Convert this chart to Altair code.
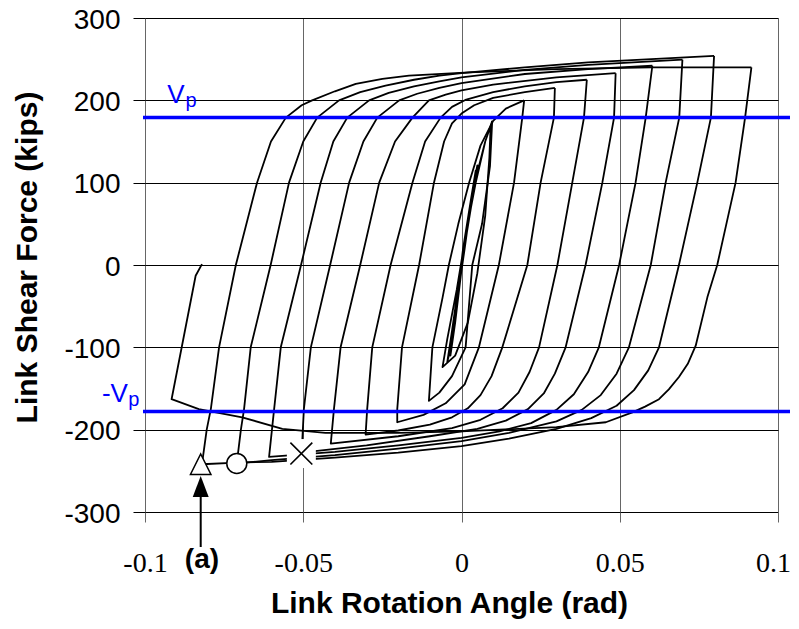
import altair as alt
import pandas as pd

# ---------------- data ----------------
x_ticks = [-0.1, -0.05, 0, 0.05, 0.1]
y_ticks = [-300, -200, -100, 0, 100, 200, 300]
vp_pos = 179
vp_neg = -178

# hysteresis history, split into cycles: (rotation rad, shear kips)
cycle_0 = [(0, 0), (0.002, 50), (0.0045, 115),
           (0.003, 80), (0.0005, 20), (-0.002, -60), (-0.0035, -110),
           (-0.002, -70), (0.0005, 10), (0.003, 80), (0.005, 121),
           (0.0035, 90), (0.001, 20), (-0.002, -60), (-0.004, -110), (-0.0045, -118),
           (-0.003, -80), (0.0, 0), (0.003, 70), (0.0055, 120), (0.0075, 150), (0.0092, 169),
           (0.0088, 130), (0.0075, 60), (0.005, -10), (0.002, -70), (-0.002, -110), (-0.006, -124),
           (-0.0045, -90), (-0.0015, -30), (0.0015, 40), (0.0045, 100), (0.0075, 150), (0.0097, 175)]
cycle_1 = [(0.0097, 175), (0.009, 120), (0.0065, 50), (0.0034, 0), (0.0013, -100), (-0.003, -135),
           (-0.007, -155), (-0.0103, -165),
           (-0.0092, -100), (-0.006, -40), (-0.004, 0), (-0.001, 50), (0.0024, 100), (0.006, 145),
           (0.010, 175), (0.014, 190), (0.0198, 200)]
cycle_2 = [(0.0198, 200), (0.0192, 179), (0.0166, 100), (0.0118, 0), (0.0055, -100), (0.001, -145),
           (-0.005, -168), (-0.012, -182), (-0.0203, -191),
           (-0.0203, -175), (-0.0188, -100), (-0.0134, 0), (-0.0087, 100), (-0.0055, 150), (-0.003, 172),
           (0.0, 184), (0.004, 194), (0.01, 203), (0.02, 210), (0.0295, 215)]
cycle_3 = [(0.0295, 215), (0.0292, 179), (0.025, 100), (0.0208, 0), (0.0129, -100), (0.0095, -135),
           (0.006, -158), (0.002, -174), (-0.003, -185), (-0.01, -194), (-0.02, -201), (-0.0303, -206),
           (-0.0298, -175), (-0.0282, -100), (-0.0224, 0), (-0.0155, 100), (-0.0115, 150), (-0.0066, 179),
           (-0.003, 192), (0.0015, 201), (0.01, 210), (0.02, 217), (0.03, 222), (0.0396, 225)]
cycle_4 = [(0.0396, 225), (0.0387, 179), (0.035, 100), (0.0303, 0), (0.0245, -100), (0.0215, -130),
           (0.018, -155), (0.013, -174), (0.006, -188), (-0.003, -198), (-0.02, -208), (-0.0413, -217),
           (-0.0403, -175), (-0.0382, -100), (-0.032, 0), (-0.026, 100), (-0.021, 150), (-0.0155, 179),
           (-0.0103, 200), (-0.005, 207), (0.0, 212), (0.01, 219), (0.03, 228), (0.0487, 233)]
cycle_5 = [(0.0487, 233), (0.0482, 179), (0.0445, 100), (0.0392, 0), (0.0329, -100), (0.0295, -132),
           (0.026, -156), (0.021, -175), (0.014, -189), (0.005, -199), (-0.01, -208), (-0.03, -219),
           (-0.0505, -228),
           (-0.0498, -175), (-0.0476, -100), (-0.0415, 0), (-0.0355, 100), (-0.031, 150), (-0.0266, 179),
           (-0.0197, 200), (-0.014, 208), (-0.007, 215), (0.0, 221), (0.02, 232), (0.04, 238), (0.0603, 242)]
cycle_6 = [(0.0603, 242), (0.0582, 179), (0.055, 100), (0.0498, 0), (0.0434, -100), (0.04, -130),
           (0.0355, -157), (0.03, -176), (0.022, -192), (0.012, -202), (0.0, -210), (-0.02, -219),
           (-0.04, -227), (-0.0608, -233),
           (-0.0592, -175), (-0.0571, -100), (-0.0507, 0), (-0.0445, 100), (-0.0405, 150), (-0.0361, 179),
           (-0.0292, 200), (-0.023, 209), (-0.015, 217), (-0.007, 223), (0.0, 228), (0.02, 237), (0.04, 243),
           (0.0698, 249.5)]
cycle_7 = [(0.0698, 249.5), (0.0688, 179), (0.0645, 100), (0.0598, 0), (0.0529, -100), (0.049, -132),
           (0.044, -158), (0.038, -176), (0.03, -190), (0.015, -204), (0.0, -214), (-0.02, -223),
           (-0.04, -231), (-0.06, -237), (-0.071, -241),
           (-0.0697, -200), (-0.0687, -175), (-0.0666, -100), (-0.0603, 0), (-0.0545, 100), (-0.05, 150),
           (-0.0456, 179), (-0.0387, 200), (-0.032, 210), (-0.024, 218), (-0.015, 225), (-0.007, 230),
           (0.0, 233), (0.02, 240), (0.04, 246), (0.06, 250), (0.0798, 254)]
cycle_8 = [(0.0798, 254), (0.0788, 179), (0.0745, 100), (0.0687, 0), (0.0624, -100), (0.059, -128),
           (0.0545, -152), (0.049, -171), (0.041, -186), (0.03, -199), (0.015, -211), (0.0, -220),
           (-0.02, -228), (-0.04, -234), (-0.06, -239), (-0.071, -240), (-0.082, -242),
           (-0.0805, -200), (-0.0792, -175), (-0.0766, -100), (-0.0713, 0), (-0.0646, 100), (-0.0602, 150),
           (-0.0555, 179), (-0.0505, 194), (-0.0472, 200), (-0.04, 211), (-0.0334, 220), (-0.025, 226),
           (-0.0166, 230), (0.0024, 234), (0.03, 238), (0.06, 240), (0.0916, 240)]
cycle_9 = [(0.0916, 240), (0.0896, 179), (0.0866, 100), (0.0808, 0), (0.0777, -39), (0.074, -98),
           (0.0715, -120), (0.0687, -136), (0.0655, -151), (0.0624, -163), (0.058, -172), (0.054, -179),
           (0.0456, -191), (0.03, -197), (0.0, -202), (-0.02, -204), (-0.043, -204), (-0.0566, -199),
           (-0.0693, -185), (-0.083, -175), (-0.0916, -163),
           (-0.084, -13), (-0.082, 1)]

cycles = [cycle_0, cycle_1, cycle_2, cycle_3, cycle_4, cycle_5, cycle_6, cycle_7, cycle_8, cycle_9]

# event markers
tri_pt = (-0.0824, -242)
circ_pt = (-0.071, -241)
x_pt = (-0.0506, -229)

# ---------------- build tables ----------------
rows = []
for c, pts in enumerate(cycles):
    for i, (x, y) in enumerate(pts):
        rows.append({"cycle": c, "i": i, "x": x, "y": y})
df = pd.DataFrame(rows)

SANS = "Liberation Sans, Arial, sans-serif"
SERIF = "Liberation Serif, Times New Roman, serif"

xs = alt.Scale(domain=[-0.1, 0.1], nice=False, zero=False)
ys = alt.Scale(domain=[-300, 300], nice=False, zero=False)

x_axis = alt.Axis(
    values=x_ticks, grid=True, gridColor="#666666", gridWidth=1,
    domain=False, ticks=True, tickSize=10, tickColor="#666666", tickWidth=1,
    labelFont=SERIF, labelFontSize=28, labelColor="black",
    labelBaseline="alphabetic", labelPadding=49, labelFlush=False,
    labelOffset={"condition": {"test": "datum.value > 0.09", "value": -5}, "value": 0},
    labelExpr="datum.value < -0.075 ? '-0.1' : datum.value < -0.025 ? '-0.05' : datum.value < 0.025 ? '0' : datum.value < 0.075 ? '0.05' : '0.1'",
    title="Link Rotation Angle (rad)", titleFont=SANS, titleFontSize=30, titleFontWeight="bold",
    titleColor="black", titleX=304, titleY=100, titleBaseline="alphabetic", titleAlign="center",
    titleAnchor="start",
)
y_axis = alt.Axis(
    values=y_ticks, grid=True, gridColor="black", gridWidth=1,
    domain=False, ticks=True, tickSize=12, tickColor="black", tickWidth=1,
    labelFont=SANS, labelFontSize=28, labelColor="black", labelPadding=13, labelOffset=2,
    labelExpr="'' + datum.value",
    title="Link Shear Force (kips)", titleFont=SANS, titleFontSize=30, titleFontWeight="bold",
    titleColor="black", titleX=-109, titleY=239, titleAngle=-90, titleBaseline="alphabetic",
    titleAlign="center", titleAnchor="start",
)

lines = alt.Chart(df).mark_line(color="black", strokeWidth=1.8, strokeJoin="round").encode(
    x=alt.X("x:Q", scale=xs, axis=x_axis),
    y=alt.Y("y:Q", scale=ys, axis=y_axis),
    detail="cycle:N",
    order="i:Q",
)

vp_df = pd.DataFrame({"v": [vp_pos, vp_neg]})
vp_lines = alt.Chart(vp_df).mark_rule(color="#0000ff", strokeWidth=3.5).encode(
    y=alt.Y("v:Q", scale=ys),
    x=alt.value(-2),
    x2=alt.value(645),
)

lab_df = pd.DataFrame({
    "t": ["V", "p", "-V", "p"],
    "x": [-0.093, -0.0872, -0.1136, -0.1053],
    "y": [197, 192, -166, -171],
    "s": [26, 20, 26, 20],
})
vp_text = alt.Chart(lab_df).mark_text(
    color="#0000ff", font=SANS, align="left", baseline="alphabetic",
).encode(
    x=alt.X("x:Q", scale=xs), y=alt.Y("y:Q", scale=ys), text="t:N",
    size=alt.Size("s:Q", scale=None, legend=None),
)

def pt_df(p):
    return pd.DataFrame({"x": [p[0]], "y": [p[1]]})

tri = alt.Chart(pt_df(tri_pt)).mark_point(
    shape="M0,-1L1,1L-1,1Z", size=420, filled=True, fill="white", stroke="black", strokeWidth=1.5, opacity=1
).encode(x=alt.X("x:Q", scale=xs), y=alt.Y("y:Q", scale=ys))

circ = alt.Chart(pt_df(circ_pt)).mark_point(
    shape="circle", size=400, filled=True, fill="white", stroke="black", strokeWidth=1.5, opacity=1
).encode(x=alt.X("x:Q", scale=xs), y=alt.Y("y:Q", scale=ys))

xbox = alt.Chart(pt_df(x_pt)).mark_point(
    shape="square", size=840, filled=True, fill="white", strokeWidth=0, opacity=1
).encode(x=alt.X("x:Q", scale=xs), y=alt.Y("y:Q", scale=ys))

xmark = alt.Chart(pt_df(x_pt)).mark_point(
    shape="M-1,-1L1,1M1,-1L-1,1", size=480, filled=False, stroke="black", strokeWidth=1.6, opacity=1
).encode(x=alt.X("x:Q", scale=xs), y=alt.Y("y:Q", scale=ys))

arrow_df = pd.DataFrame({"x": [tri_pt[0]], "y": [-280]})
shaft = alt.Chart(arrow_df).mark_rule(color="black", strokeWidth=2).encode(
    x=alt.X("x:Q", scale=xs), y=alt.Y("y:Q", scale=ys), y2=alt.value(529)
)
head_df = pd.DataFrame({"x": [tri_pt[0]], "y": [-269]})
head = alt.Chart(head_df).mark_point(
    shape="M0,-1L0.76,1L-0.76,1Z", size=441, filled=True, fill="black", strokeWidth=0, opacity=1
).encode(x=alt.X("x:Q", scale=xs), y=alt.Y("y:Q", scale=ys))

a_df = pd.DataFrame({"x": [-0.082], "t": ["(a)"]})
a_text = alt.Chart(a_df).mark_text(
    font=SANS, fontSize=28, fontWeight="bold", color="black", baseline="middle", align="center"
).encode(x=alt.X("x:Q", scale=xs), y=alt.value(542), text="t:N")

chart = alt.layer(
    lines, vp_lines, vp_text, xbox, xmark, tri, circ, shaft, head, a_text
).properties(
    width=633, height=494,
    autosize=alt.AutoSizeParams(type="none"),
    padding={"left": 137, "top": 10, "right": 13, "bottom": 107},
).configure_view(
    stroke="black", strokeWidth=2
).configure(background="white")

chart.save("out.html", embed_options={"renderer": "svg", "actions": False})
